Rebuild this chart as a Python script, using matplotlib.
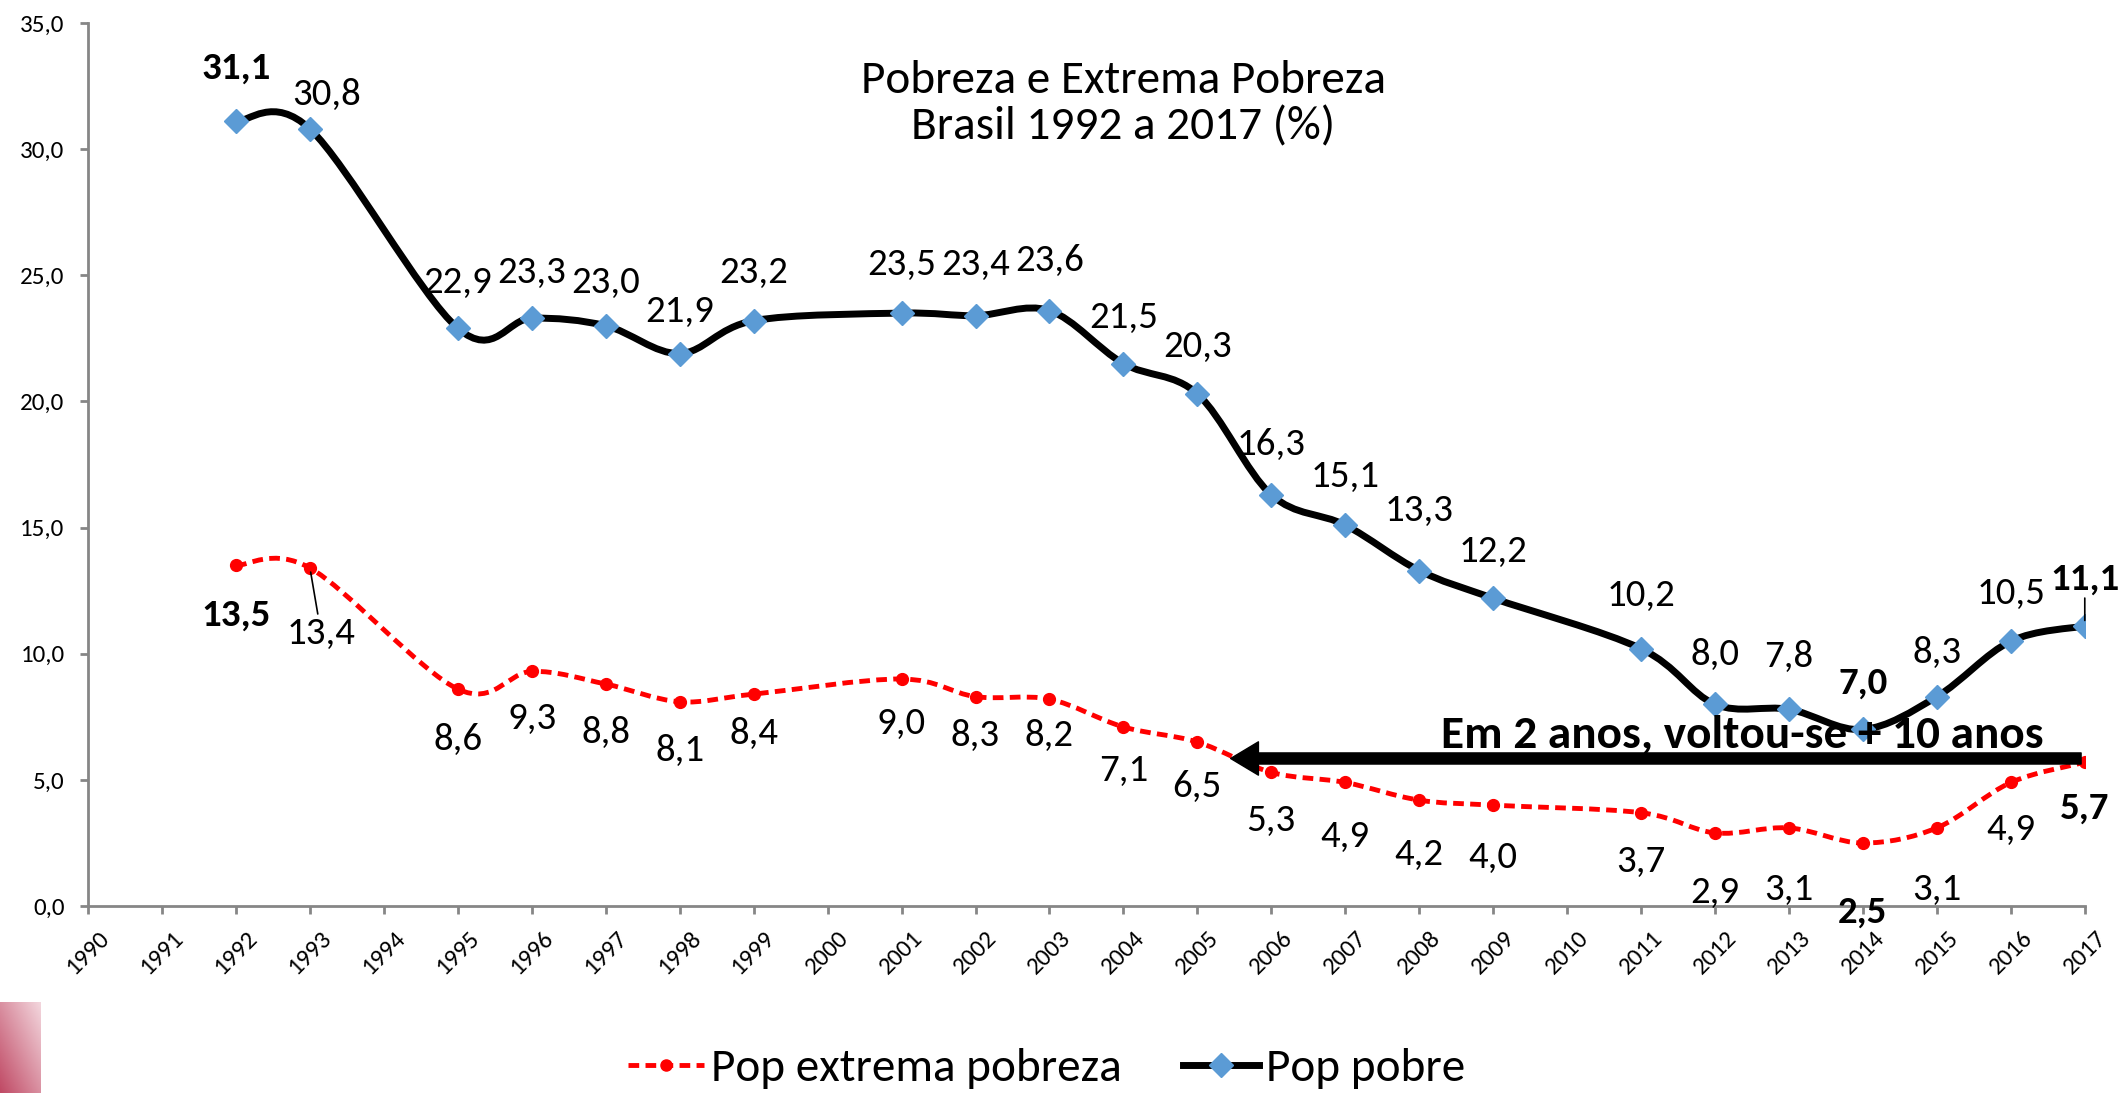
import numpy as np
import matplotlib
matplotlib.use('Agg')
import matplotlib.pyplot as plt
from matplotlib.path import Path
from matplotlib.patches import PathPatch
from matplotlib.lines import Line2D
from matplotlib.colors import LinearSegmentedColormap

plt.rcParams['font.family'] = ['Carlito', 'DejaVu Sans']

# data
years = [1992, 1993, 1995, 1996, 1997, 1998, 1999, 2001, 2002, 2003, 2004, 2005,
         2006, 2007, 2008, 2009, 2011, 2012, 2013, 2014, 2015, 2016, 2017]
pop_pobre = [31.1, 30.8, 22.9, 23.3, 23.0, 21.9, 23.2, 23.5, 23.4, 23.6, 21.5, 20.3,
             16.3, 15.1, 13.3, 12.2, 10.2, 8.0, 7.8, 7.0, 8.3, 10.5, 11.1]
pop_extrema = [13.5, 13.4, 8.6, 9.3, 8.8, 8.1, 8.4, 9.0, 8.3, 8.2, 7.1, 6.5,
               5.3, 4.9, 4.2, 4.0, 3.7, 2.9, 3.1, 2.5, 3.1, 4.9, 5.7]
axis_years = list(range(1990, 2018))
bold_years = [1992, 2014, 2017]

# label offsets (points)
pobre_dx = [0, 12] + [0] * 21
pobre_dy = [38, 25, 33, 33, 31, 30, 35, 35, 37, 36, 33, 34,
            36, 35, 43, 34, 38, 36, 38, 33, 32, 34, 34]
extr_dx = [0, 8] + [0] * 21
extr_dy = [-36, -47, -36, -34, -35, -35, -28, -32, -28, -26, -31, -32,
           -35, -39, -39, -38, -35, -43, -44, -50, -44, -34, -33]


def smooth_path(xs, ys):
    # Excel-like smoothed line: Catmull-Rom converted to cubic Bezier
    pts = np.column_stack([xs, ys]).astype(float)
    n = len(pts)
    verts = [pts[0]]
    codes = [Path.MOVETO]
    for i in range(n - 1):
        p0 = pts[i - 1] if i > 0 else pts[i]
        p1 = pts[i]
        p2 = pts[i + 1]
        p3 = pts[i + 2] if i + 2 < n else pts[i + 1]
        c1 = p1 + (p2 - p0) / 6.0
        c2 = p2 - (p3 - p1) / 6.0
        verts += [c1, c2, p2]
        codes += [Path.CURVE4] * 3
    return Path(verts, codes)


def fmt(v):
    return f'{v:.1f}'.replace('.', ',')


fig = plt.figure(figsize=(21.23, 10.93), dpi=100)
ax = fig.add_axes([0.0415, 0.171, 0.9405, 0.808])

blue = '#5B9BD5'
red = '#FF0000'
dash = (0, (2.2, 1.3))

ax.add_patch(PathPatch(smooth_path(years, pop_extrema), fill=False, edgecolor=red,
                       lw=3.5, linestyle=dash, zorder=3))
ax.plot(years, pop_extrema, 'o', color=red, ms=8.5, zorder=4)
ax.add_patch(PathPatch(smooth_path(years, pop_pobre), fill=False, edgecolor='black',
                       lw=5, zorder=3))
ax.plot(years, pop_pobre, 'D', color=blue, ms=12, zorder=4)

ax.set_xlim(1990, 2017)
ax.set_ylim(0, 35)
yt = np.arange(0, 36, 5)
ax.set_yticks(yt)
ax.set_yticklabels([fmt(v) for v in yt])
ax.set_xticks(axis_years)
ax.set_xticklabels([str(y) for y in axis_years], rotation=45, ha='center', va='top')

for s in ['top', 'right']:
    ax.spines[s].set_visible(False)
for s in ['left', 'bottom']:
    ax.spines[s].set_color('#868686')
    ax.spines[s].set_linewidth(2)
ax.tick_params(axis='both', colors='#868686', width=2, length=6, labelcolor='black')
ax.tick_params(axis='y', labelsize=18, pad=11)
ax.tick_params(axis='x', labelsize=18, pad=9)

for i, (x, y) in enumerate(zip(years, pop_pobre)):
    w = 'bold' if x in bold_years else 'normal'
    ax.annotate(fmt(y), (x, y), xytext=(pobre_dx[i], pobre_dy[i]),
                textcoords='offset points', ha='center', va='center',
                fontsize=28, fontweight=w, annotation_clip=False, zorder=5,
                arrowprops=dict(arrowstyle='-', color='black', lw=1.2,
                                shrinkA=0, shrinkB=4) if x == 2017 else None)

for i, (x, y) in enumerate(zip(years, pop_extrema)):
    w = 'bold' if x in bold_years else 'normal'
    ax.annotate(fmt(y), (x, y), xytext=(extr_dx[i], extr_dy[i]),
                textcoords='offset points', ha='center', va='center',
                fontsize=28, fontweight=w, annotation_clip=False, zorder=5,
                arrowprops=dict(arrowstyle='-', color='black', lw=1.2,
                                shrinkA=0, shrinkB=3) if x == 1993 else None)

# arrow and note
ax.annotate('', xy=(2005.45, 5.85), xytext=(2016.95, 5.85),
            arrowprops=dict(width=8, headwidth=24, headlength=20,
                            facecolor='black', edgecolor='black', shrink=0),
            zorder=6)
ax.text(2016.45, 6.8, 'Em 2 anos, voltou-se + 10 anos', ha='right', va='center',
        fontsize=34, fontweight='bold', zorder=6)

fig.text(0.529, 0.905, 'Pobreza e Extrema Pobreza\nBrasil 1992 a 2017 (%)',
         ha='center', va='center', fontsize=34, linespacing=1.15)

handles = [
    Line2D([], [], color=red, lw=3.5, linestyle=dash, marker='o', ms=8),
    Line2D([], [], color='black', lw=5, marker='D', ms=12, mfc=blue, mec=blue),
]
fig.legend(handles, ['Pop extrema pobreza', 'Pop pobre'], loc='center',
           bbox_to_anchor=(0.493, 0.022), ncol=2, frameon=False, fontsize=34,
           handlelength=1.6, handletextpad=0.15, columnspacing=1.3)

# decorative gradient at bottom-left corner
gax = fig.add_axes([0, 0, 41 / 2123, 91 / 1093])
gx, gy = np.meshgrid(np.linspace(0, 1, 50), np.linspace(0, 1, 50))
grad = (gx + (1 - gy)) / 2
cmap = LinearSegmentedColormap.from_list('pk', ['#c04a65', '#f3d6dd'])
gax.imshow(grad, cmap=cmap, aspect='auto')
gax.axis('off')

fig.savefig('out.png', dpi=100)
